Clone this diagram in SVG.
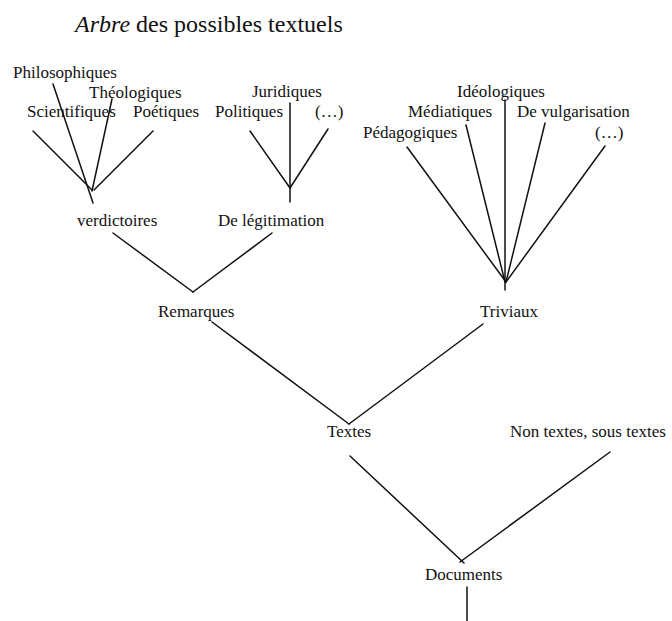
<svg xmlns="http://www.w3.org/2000/svg" width="672" height="621" viewBox="0 0 672 621">
<style>
text { font-family: "Liberation Serif", "Times New Roman", serif; font-size: 17px; fill: #111; }
.title { font-size: 24px; }
.c line { stroke: #111; stroke-width: 1.5; stroke-linecap: round; }
</style>
<rect width="672" height="621" fill="#fff"/>
<text class="title" x="75" y="32"><tspan font-style="italic">Arbre</tspan> des possibles textuels</text>
<g class="c" id="connectors">
<line x1="33" y1="131" x2="92" y2="190"/>
<line x1="53" y1="84" x2="93" y2="203"/>
<line x1="112" y1="99" x2="92" y2="191"/>
<line x1="153" y1="131" x2="94" y2="190"/>
<line x1="250" y1="131" x2="290" y2="188"/>
<line x1="290" y1="103" x2="290" y2="202"/>
<line x1="328" y1="129" x2="290" y2="188"/>
<line x1="407" y1="147" x2="506" y2="282"/>
<line x1="466" y1="125" x2="505" y2="282"/>
<line x1="505" y1="100" x2="505" y2="290"/>
<line x1="545" y1="123" x2="506" y2="282"/>
<line x1="605" y1="146" x2="506" y2="282"/>
<line x1="113" y1="233" x2="193" y2="292"/>
<line x1="272" y1="233" x2="193" y2="292"/>
<line x1="212" y1="322" x2="349" y2="424"/>
<line x1="483" y1="324" x2="349" y2="424"/>
<line x1="350" y1="456" x2="464" y2="563"/>
<line x1="610" y1="452" x2="460" y2="562"/>
<line x1="467" y1="587" x2="467" y2="621"/>
</g>
<g id="philosophiques"><text x="13" y="78">Philosophiques</text></g>
<g id="theologiques"><text x="89" y="98">Théologiques</text></g>
<g id="scientifiques"><text x="27" y="117">Scientifiques</text></g>
<g id="poetiques"><text x="133" y="117">Poétiques</text></g>
<g id="verdictoires"><text x="77" y="226">verdictoires</text></g>
<g id="juridiques"><text x="252" y="97">Juridiques</text></g>
<g id="politiques"><text x="215" y="117">Politiques</text></g>
<g id="etc1"><text x="315" y="117">(…)</text></g>
<g id="delegitimation"><text x="218" y="226">De légitimation</text></g>
<g id="ideologiques"><text x="457" y="97">Idéologiques</text></g>
<g id="mediatiques"><text x="408" y="117">Médiatiques</text></g>
<g id="vulgarisation"><text x="517" y="117">De vulgarisation</text></g>
<g id="pedagogiques"><text x="363" y="138">Pédagogiques</text></g>
<g id="etc2"><text x="595" y="138">(…)</text></g>
<g id="remarques"><text x="158" y="317">Remarques</text></g>
<g id="triviaux"><text x="480" y="317">Triviaux</text></g>
<g id="textes"><text x="327" y="437">Textes</text></g>
<g id="nontextes"><text x="510" y="437">Non textes, sous textes</text></g>
<g id="documents"><text x="425" y="580">Documents</text></g>
</svg>
